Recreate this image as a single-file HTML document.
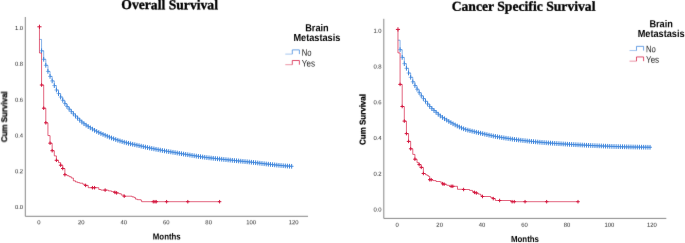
<!DOCTYPE html>
<html><head><meta charset="utf-8"><title>Survival</title>
<style>
html,body{margin:0;padding:0;background:#fff;}
body{width:685px;height:243px;overflow:hidden;}
svg{display:block;}
text{font-family:"Liberation Sans",sans-serif;fill:#1a1a1a;text-rendering:geometricPrecision;}
.tk{font-size:5.9px;fill:#1c1c1c;}
.ttl{font-family:"Liberation Serif",serif;font-weight:bold;font-size:13.65px;fill:#000;stroke:#000;stroke-width:0.3px;}
.axl{font-weight:bold;font-size:8.9px;fill:#000;}
.ayl{font-weight:bold;font-size:8.4px;fill:#000;stroke:#000;stroke-width:0.25px;}
.lgt{font-weight:bold;font-size:10.2px;fill:#000;}
.lg{font-size:9.4px;fill:#1a1a1a;}
</style></head><body>
<svg width="685" height="243" viewBox="0 0 685 243">
<defs><filter id="sf" x="0" y="0" width="100%" height="100%" filterUnits="userSpaceOnUse" color-interpolation-filters="sRGB"><feConvolveMatrix order="3" kernelMatrix="0.0052 0.0619 0.0052 0.0619 0.7314 0.0619 0.0052 0.0619 0.0052" divisor="1" edgeMode="duplicate" preserveAlpha="false"/></filter></defs>
<rect width="685" height="243" fill="#fff"/>
<g filter="url(#sf)">
<rect width="685" height="243" fill="#fff"/>
<path d="M25.3 17V216.3H308" fill="none" stroke="#888888" stroke-width="1"/>
<text transform="translate(23.1 30.05) rotate(0.05)" class="tk" text-anchor="end">1.0</text>
<text transform="translate(23.1 65.85) rotate(0.05)" class="tk" text-anchor="end">0.8</text>
<text transform="translate(23.1 101.65) rotate(0.05)" class="tk" text-anchor="end">0.6</text>
<text transform="translate(23.1 137.45) rotate(0.05)" class="tk" text-anchor="end">0.4</text>
<text transform="translate(23.1 173.25) rotate(0.05)" class="tk" text-anchor="end">0.2</text>
<text transform="translate(23.1 209.05) rotate(0.05)" class="tk" text-anchor="end">0.0</text>
<text transform="translate(38.85 224.25) rotate(0.05)" class="tk" text-anchor="middle">0</text>
<text transform="translate(81.3 224.25) rotate(0.05)" class="tk" text-anchor="middle">20</text>
<text transform="translate(123.75 224.25) rotate(0.05)" class="tk" text-anchor="middle">40</text>
<text transform="translate(166.2 224.25) rotate(0.05)" class="tk" text-anchor="middle">60</text>
<text transform="translate(208.65 224.25) rotate(0.05)" class="tk" text-anchor="middle">80</text>
<text transform="translate(251.1 224.25) rotate(0.05)" class="tk" text-anchor="middle">100</text>
<text transform="translate(293.55 224.25) rotate(0.05)" class="tk" text-anchor="middle">120</text>
<text transform="translate(121.3 9.1) rotate(0.05)" class="ttl">Overall Survival</text>
<text transform="translate(152.8 239.45) rotate(0.05) scale(0.885 1)" class="axl">Months</text>
<text transform="translate(7.1 116.8) rotate(-89.95) scale(0.95 1)" class="ayl" text-anchor="middle">Cum Survival</text>
<text transform="translate(316.9 31.2) rotate(0.05) scale(0.9 1)" class="lgt" text-anchor="middle">Brain</text>
<text transform="translate(316.9 41) rotate(0.05) scale(0.9 1)" class="lgt" text-anchor="middle">Metastasis</text>
<path d="M285.3 54.1H292.3" fill="none" stroke="#3f86dc" stroke-width="0.9" opacity="0.5"/>
<path d="M292.3 54.1V49.9H299.4V54.1" fill="none" stroke="#3f86dc" stroke-width="0.9" opacity="0.85"/>
<path d="M285.3 64.7H292.3" fill="none" stroke="#d4183f" stroke-width="0.9" opacity="0.5"/>
<path d="M292.3 64.7V60.5H299.4V64.7" fill="none" stroke="#d4183f" stroke-width="0.9" opacity="0.85"/>
<text transform="translate(301.8 55.8) rotate(0.05) scale(0.82 1)" class="lg">No</text>
<text transform="translate(301.8 66.4) rotate(0.05) scale(0.86 1)" class="lg">Yes</text>
<path d="M383.8 18.8V218.4H666.3" fill="none" stroke="#888888" stroke-width="1"/>
<text transform="translate(381.6 32.65) rotate(0.05)" class="tk" text-anchor="end">1.0</text>
<text transform="translate(381.6 68.43) rotate(0.05)" class="tk" text-anchor="end">0.8</text>
<text transform="translate(381.6 104.21) rotate(0.05)" class="tk" text-anchor="end">0.6</text>
<text transform="translate(381.6 139.99) rotate(0.05)" class="tk" text-anchor="end">0.4</text>
<text transform="translate(381.6 175.77) rotate(0.05)" class="tk" text-anchor="end">0.2</text>
<text transform="translate(381.6 211.55) rotate(0.05)" class="tk" text-anchor="end">0.0</text>
<text transform="translate(397.2 226.75) rotate(0.05)" class="tk" text-anchor="middle">0</text>
<text transform="translate(439.65 226.75) rotate(0.05)" class="tk" text-anchor="middle">20</text>
<text transform="translate(482.1 226.75) rotate(0.05)" class="tk" text-anchor="middle">40</text>
<text transform="translate(524.55 226.75) rotate(0.05)" class="tk" text-anchor="middle">60</text>
<text transform="translate(567 226.75) rotate(0.05)" class="tk" text-anchor="middle">80</text>
<text transform="translate(609.45 226.75) rotate(0.05)" class="tk" text-anchor="middle">100</text>
<text transform="translate(651.9 226.75) rotate(0.05)" class="tk" text-anchor="middle">120</text>
<text transform="translate(451.7 10.7) rotate(0.05)" class="ttl">Cancer Specific Survival</text>
<text transform="translate(511 242) rotate(0.05) scale(0.885 1)" class="axl">Months</text>
<text transform="translate(365.4 119.5) rotate(-89.95) scale(0.95 1)" class="ayl" text-anchor="middle">Cum Survival</text>
<text transform="translate(661.1 27.2) rotate(0.05) scale(0.9 1)" class="lgt" text-anchor="middle">Brain</text>
<text transform="translate(661.1 37) rotate(0.05) scale(0.9 1)" class="lgt" text-anchor="middle">Metastasis</text>
<path d="M629.5 50.55H636.5" fill="none" stroke="#3f86dc" stroke-width="0.9" opacity="0.5"/>
<path d="M636.5 50.55V46.35H643.6V50.55" fill="none" stroke="#3f86dc" stroke-width="0.9" opacity="0.85"/>
<path d="M629.5 61.15H636.5" fill="none" stroke="#d4183f" stroke-width="0.9" opacity="0.5"/>
<path d="M636.5 61.15V56.95H643.6V61.15" fill="none" stroke="#d4183f" stroke-width="0.9" opacity="0.85"/>
<text transform="translate(646 52.25) rotate(0.05) scale(0.82 1)" class="lg">No</text>
<text transform="translate(646 62.85) rotate(0.05) scale(0.86 1)" class="lg">Yes</text>
</g>
<g>
<path d="M39.45 39.4H41.57V50.8H43.69V59.3H45.81V65.3H47.93V71.4H50.05V76.4H52.17V80.9H54.29V85.6H56.41V90H58.52V93.6H60.64V97H62.76V100.32H64.88V103.56H67V106.55H69.12V109.18H71.24V111.59H73.36V113.85H75.48V116.03H77.6V118.18H79.72V120.22H81.84V122.09H83.96V123.72H86.08V125.19H88.2V126.55H90.32V127.86H92.44V129.13H94.55V130.34H96.67V131.47H98.79V132.52H100.91V133.48H103.03V134.39H105.15V135.3H107.27V136.22H109.39V137.12H111.51V137.98H113.63V138.77H115.75V139.53H117.87V140.26H119.99V140.95H122.11V141.61H124.23V142.23H126.35V142.79H128.46V143.31H130.58V143.8H132.7V144.27H134.82V144.74H136.94V145.2H139.06V145.68H141.18V146.16H143.3V146.64H145.42V147.1H147.54V147.56H149.66V148.01H151.78V148.45H153.9V148.88H156.02V149.3H158.14V149.71H160.26V150.11H162.38V150.5H164.49V150.87H166.61V151.24H168.73V151.59H170.85V151.94H172.97V152.28H175.09V152.64H177.21V152.99H179.33V153.35H181.45V153.71H183.57V154.06H185.69V154.4H187.81V154.74H189.93V155.08H192.05V155.42H194.17V155.76H196.29V156.09H198.41V156.41H200.52V156.72H202.64V157.02H204.76V157.3H206.88V157.57H209V157.83H211.12V158.08H213.24V158.32H215.36V158.56H217.48V158.79H219.6V159.01H221.72V159.24H223.84V159.46H225.96V159.68H228.08V159.9H230.2V160.12H232.32V160.34H234.43V160.56H236.55V160.77H238.67V160.97H240.79V161.18H242.91V161.39H245.03V161.59H247.15V161.8H249.27V162.02H251.39V162.23H253.51V162.46H255.63V162.7H257.75V162.95H259.87V163.21H261.99V163.48H264.11V163.73H266.23V163.97H268.35V164.2H270.46V164.43H272.58V164.66H274.7V164.89H276.82V165.11H278.94V165.32H281.06V165.52H283.18V165.71H285.3V165.89H287.42V166.05H289.54V166.19H291.66V166.3h1.6" fill="none" stroke="#3f86dc" stroke-width="0.9" opacity="0.7"/>
<path d="M39.45 26.8V53H41.57V85H43.69V108.2H45.81V122.8H47.93V135.6H50.05V143.2H52.17V150.7H54.29V155.9H56.41V160.3H58.52V162.6H60.64V165.2H62.76V168.5H64.88V174.7H67V175.7H69.12V176.7H71.24V178H73.36V180.8H75.48V181.9H77.6V182.6H79.72V183.2H82.9V184.3H85.23V185.4H88.2V187.7H98.79V189.5H100.91V190.1H108.33V190.9H111.51V191.6H114.9V192.4H116.6V192.9H118.93V193.7H121.26V195.1H124.23V196.2H132.07V196.9H134.19V197.6H135.46V199.1H137.37V199.7H140.76V200.2H141.61V201.7H219.77" fill="none" stroke="#d4183f" stroke-width="0.9" opacity="0.75"/>
<path d="M39.57 50.8h4M41.69 59.3h4M43.81 65.3h4M45.93 71.4h4M48.05 76.4h4M50.17 80.9h4M52.29 85.6h4M54.41 90h4M56.52 93.6h4M58.64 97h4M60.76 100.32h4M62.88 103.56h4M65 106.55h4M67.12 109.18h4M69.24 111.59h4M71.36 113.85h4M73.48 116.03h4M75.6 118.18h4M77.72 120.22h4M79.84 122.09h4M81.96 123.72h4M84.08 125.19h4M86.2 126.55h4M88.32 127.86h4M90.44 129.13h4M92.55 130.34h4M94.67 131.47h4M96.79 132.52h4M98.91 133.48h4M101.03 134.39h4M103.15 135.3h4M105.27 136.22h4M107.39 137.12h4M109.51 137.98h4M111.63 138.77h4M113.75 139.53h4M115.87 140.26h4M117.99 140.95h4M120.11 141.61h4M122.23 142.23h4M124.35 142.79h4M126.46 143.31h4M128.58 143.8h4M130.7 144.27h4M132.82 144.74h4M134.94 145.2h4M137.06 145.68h4M139.18 146.16h4M141.3 146.64h4M143.42 147.1h4M145.54 147.56h4M147.66 148.01h4M149.78 148.45h4M151.9 148.88h4M154.02 149.3h4M156.14 149.71h4M158.26 150.11h4M160.38 150.5h4M162.49 150.87h4M164.61 151.24h4M166.73 151.59h4M168.85 151.94h4M170.97 152.28h4M173.09 152.64h4M175.21 152.99h4M177.33 153.35h4M179.45 153.71h4M181.57 154.06h4M183.69 154.4h4M185.81 154.74h4M187.93 155.08h4M190.05 155.42h4M192.17 155.76h4M194.29 156.09h4M196.41 156.41h4M198.52 156.72h4M200.64 157.02h4M202.76 157.3h4M204.88 157.57h4M207 157.83h4M209.12 158.08h4M211.24 158.32h4M213.36 158.56h4M215.48 158.79h4M217.6 159.01h4M219.72 159.24h4M221.84 159.46h4M223.96 159.68h4M226.08 159.9h4M228.2 160.12h4M230.32 160.34h4M232.43 160.56h4M234.55 160.77h4M236.67 160.97h4M238.79 161.18h4M240.91 161.39h4M243.03 161.59h4M245.15 161.8h4M247.27 162.02h4M249.39 162.23h4M251.51 162.46h4M253.63 162.7h4M255.75 162.95h4M257.87 163.21h4M259.99 163.48h4M262.11 163.73h4M264.23 163.97h4M266.35 164.2h4M268.46 164.43h4M270.58 164.66h4M272.7 164.89h4M274.82 165.11h4M276.94 165.32h4M279.06 165.52h4M281.18 165.71h4M283.3 165.89h4M285.42 166.05h4M287.54 166.19h4M289.66 166.3h4" fill="none" stroke="#3f86dc" stroke-width="0.75" opacity="0.75"/>
<path d="" fill="none" stroke="#3f86dc" stroke-width="3.8" opacity="0.42"/>
<path d="M41.57 48.45v4.7M43.69 56.95v4.7M45.81 62.95v4.7M47.93 69.05v4.7M50.05 74.05v4.7M52.17 78.55v4.7M54.29 83.25v4.7M56.41 87.65v4.7M58.52 91.25v4.7M60.64 94.65v4.7M62.76 97.97v4.7M64.88 101.21v4.7M67 104.2v4.7M69.12 106.83v4.7M71.24 109.24v4.7M73.36 111.5v4.7M75.48 113.68v4.7M77.6 115.83v4.7M79.72 117.87v4.7M81.84 119.74v4.7M83.96 121.37v4.7M86.08 122.84v4.7M88.2 124.2v4.7M90.32 125.51v4.7M92.44 126.78v4.7M94.55 127.99v4.7M96.67 129.12v4.7M98.79 130.17v4.7M100.91 131.13v4.7M103.03 132.04v4.7M105.15 132.95v4.7M107.27 133.87v4.7M109.39 134.77v4.7M111.51 135.63v4.7M113.63 136.42v4.7M115.75 137.18v4.7M117.87 137.91v4.7M119.99 138.6v4.7M122.11 139.26v4.7M124.23 139.88v4.7M126.35 140.44v4.7M128.46 140.96v4.7M130.58 141.45v4.7M132.7 141.92v4.7M134.82 142.39v4.7M136.94 142.85v4.7M139.06 143.33v4.7M141.18 143.81v4.7M143.3 144.29v4.7M145.42 144.75v4.7M147.54 145.21v4.7M149.66 145.66v4.7M151.78 146.1v4.7M153.9 146.53v4.7M156.02 146.95v4.7M158.14 147.36v4.7M160.26 147.76v4.7M162.38 148.15v4.7M164.49 148.52v4.7M166.61 148.89v4.7M168.73 149.24v4.7M170.85 149.59v4.7M172.97 149.93v4.7M175.09 150.29v4.7M177.21 150.64v4.7M179.33 151v4.7M181.45 151.36v4.7M183.57 151.71v4.7M185.69 152.05v4.7M187.81 152.39v4.7M189.93 152.73v4.7M192.05 153.07v4.7M194.17 153.41v4.7M196.29 153.74v4.7M198.41 154.06v4.7M200.52 154.37v4.7M202.64 154.67v4.7M204.76 154.95v4.7M206.88 155.22v4.7M209 155.48v4.7M211.12 155.73v4.7M213.24 155.97v4.7M215.36 156.21v4.7M217.48 156.44v4.7M219.6 156.66v4.7M221.72 156.89v4.7M223.84 157.11v4.7M225.96 157.33v4.7M228.08 157.55v4.7M230.2 157.77v4.7M232.32 157.99v4.7M234.43 158.21v4.7M236.55 158.42v4.7M238.67 158.62v4.7M240.79 158.83v4.7M242.91 159.04v4.7M245.03 159.24v4.7M247.15 159.45v4.7M249.27 159.67v4.7M251.39 159.88v4.7M253.51 160.11v4.7M255.63 160.35v4.7M257.75 160.6v4.7M259.87 160.86v4.7M261.99 161.13v4.7M264.11 161.38v4.7M266.23 161.62v4.7M268.35 161.85v4.7M270.46 162.08v4.7M272.58 162.31v4.7M274.7 162.54v4.7M276.82 162.76v4.7M278.94 162.97v4.7M281.06 163.17v4.7M283.18 163.36v4.7M285.3 163.54v4.7M287.42 163.7v4.7M289.54 163.84v4.7M291.66 163.95v4.7" fill="none" stroke="#3f86dc" stroke-width="1"/>
<path d="M39.45 24.7v4.2M37.35 26.8h4.2M41.57 83.25v3.5M39.82 85h3.5M43.69 106.45v3.5M41.94 108.2h3.5M45.81 121.05v3.5M44.06 122.8h3.5M50.05 141.45v3.5M48.3 143.2h3.5M52.17 148.95v3.5M50.42 150.7h3.5M56.41 158.55v3.5M54.66 160.3h3.5M60.64 163.45v3.5M58.89 165.2h3.5M62.76 166.75v3.5M61.01 168.5h3.5M64.88 172.95v3.5M63.13 174.7h3.5M85.65 183.65v3.5M83.9 185.4h3.5M92.44 185.95v3.5M90.69 187.7h3.5M94.55 185.95v3.5M92.8 187.7h3.5M105.15 188.35v3.5M103.4 190.1h3.5M114.9 190.65v3.5M113.15 192.4h3.5M116.6 191.15v3.5M114.85 192.9h3.5M124.23 194.45v3.5M122.48 196.2h3.5M153.26 199.95v3.5M151.51 201.7h3.5M154.96 199.95v3.5M153.21 201.7h3.5M156.23 199.95v3.5M154.48 201.7h3.5M166.61 199.95v3.5M164.86 201.7h3.5M187.81 199.95v3.5M186.06 201.7h3.5M219.6 199.95v3.5M217.85 201.7h3.5" fill="none" stroke="#d4183f" stroke-width="1"/>
<path d="M397.96 40.2H400.08V49.7H402.2V57.4H404.31V63.7H406.43V68.3H408.55V73H410.67V77.3H412.79V81.8H414.91V85.6H417.02V89.22H419.14V92.68H421.26V95.81H423.38V98.62H425.5V101.3H427.61V103.99H429.73V106.52H431.85V108.65H433.97V110.52H436.09V112.37H438.21V114.27H440.32V116H442.44V117.45H444.56V118.77H446.68V120.1H448.8V121.41H450.91V122.64H453.03V123.82H455.15V124.94H457.27V126H459.39V126.99H461.51V127.94H463.62V128.8H465.74V129.53H467.86V130.14H469.98V130.68H472.1V131.19H474.22V131.71H476.33V132.22H478.45V132.71H480.57V133.2H482.69V133.69H484.81V134.18H486.92V134.67H489.04V135.15H491.16V135.61H493.28V136.04H495.4V136.44H497.52V136.82H499.63V137.18H501.75V137.54H503.87V137.88H505.99V138.22H508.11V138.54H510.22V138.85H512.34V139.15H514.46V139.44H516.58V139.72H518.7V139.99H520.82V140.25H522.93V140.5H525.05V140.74H527.17V140.98H529.29V141.2H531.41V141.42H533.52V141.64H535.64V141.84H537.76V142.04H539.88V142.23H542V142.42H544.12V142.6H546.23V142.77H548.35V142.93H550.47V143.09H552.59V143.25H554.71V143.4H556.82V143.54H558.94V143.68H561.06V143.82H563.18V143.95H565.3V144.08H567.42V144.21H569.53V144.34H571.65V144.46H573.77V144.58H575.89V144.7H578.01V144.82H580.13V144.94H582.24V145.05H584.36V145.16H586.48V145.27H588.6V145.37H590.72V145.47H592.83V145.57H594.95V145.67H597.07V145.77H599.19V145.86H601.31V145.96H603.43V146.05H605.54V146.15H607.66V146.24H609.78V146.32H611.9V146.41H614.02V146.49H616.13V146.56H618.25V146.63H620.37V146.69H622.49V146.74H624.61V146.8H626.73V146.85H628.84V146.9H630.96V146.95H633.08V147H635.2V147.05H637.32V147.09H639.43V147.13H641.55V147.17H643.67V147.2H645.79V147.23H647.91V147.26H650.03V147.28h1.6" fill="none" stroke="#3f86dc" stroke-width="0.9" opacity="0.7"/>
<path d="M397.96 29.4V52.9H400.08V84.4H402.2V106.5H404.31V121.1H406.43V133.6H408.55V141.4H410.67V148.8H412.79V154.4H414.91V159.2H417.02V162.7H419.14V164.6H421.26V167.4H423.38V173.5H425.5V174.7H427.19V175.6H428.67V176.5H429.73V179.7H432.91V180.6H436.09V181.5H440.32V182.2H442.44V183.8H444.14V184.2H446.68V185.3H449.43V186.3H457.48V189.3H463.62V189.5H469.56V190.4H472.52V191.6H474.43V192.4H476.33V193H478.24V194.1H480.57V195.3H482.48V196.5H490.74V197.6H493.28V198.6H495.4V200.5H511.07V201.7H578.18" fill="none" stroke="#d4183f" stroke-width="0.9" opacity="0.75"/>
<path d="M398.08 49.7h4M400.2 57.4h4M402.31 63.7h4M404.43 68.3h4M406.55 73h4M408.67 77.3h4M410.79 81.8h4M412.91 85.6h4M415.02 89.22h4M417.14 92.68h4M419.26 95.81h4M421.38 98.62h4M423.5 101.3h4M425.61 103.99h4M427.73 106.52h4M429.85 108.65h4M431.97 110.52h4M434.09 112.37h4M436.21 114.27h4M438.32 116h4M440.44 117.45h4M442.56 118.77h4M444.68 120.1h4M446.8 121.41h4M448.91 122.64h4M451.03 123.82h4M453.15 124.94h4M455.27 126h4M457.39 126.99h4M459.51 127.94h4M461.62 128.8h4M463.74 129.53h4M465.86 130.14h4M467.98 130.68h4M470.1 131.19h4M472.22 131.71h4M474.33 132.22h4M476.45 132.71h4M478.57 133.2h4M480.69 133.69h4M482.81 134.18h4M484.92 134.67h4M487.04 135.15h4M489.16 135.61h4M491.28 136.04h4M493.4 136.44h4M495.52 136.82h4M497.63 137.18h4M499.75 137.54h4M501.87 137.88h4M503.99 138.22h4M506.11 138.54h4M508.22 138.85h4M510.34 139.15h4M512.46 139.44h4M514.58 139.72h4M516.7 139.99h4M518.82 140.25h4M520.93 140.5h4M523.05 140.74h4M525.17 140.98h4M527.29 141.2h4M529.41 141.42h4M531.52 141.64h4M533.64 141.84h4M535.76 142.04h4M537.88 142.23h4M540 142.42h4M542.12 142.6h4M544.23 142.77h4M546.35 142.93h4M548.47 143.09h4M550.59 143.25h4M552.71 143.4h4M554.82 143.54h4M556.94 143.68h4M559.06 143.82h4M561.18 143.95h4M563.3 144.08h4M565.42 144.21h4M567.53 144.34h4M569.65 144.46h4M571.77 144.58h4M573.89 144.7h4M576.01 144.82h4M578.13 144.94h4M580.24 145.05h4M582.36 145.16h4M584.48 145.27h4M586.6 145.37h4M588.72 145.47h4M590.83 145.57h4M592.95 145.67h4M595.07 145.77h4M597.19 145.86h4M599.31 145.96h4M601.43 146.05h4M603.54 146.15h4M605.66 146.24h4M607.78 146.32h4M609.9 146.41h4M612.02 146.49h4M614.13 146.56h4M616.25 146.63h4M618.37 146.69h4M620.49 146.74h4M622.61 146.8h4M624.73 146.85h4M626.84 146.9h4M628.96 146.95h4M631.08 147h4M633.2 147.05h4M635.32 147.09h4M637.43 147.13h4M639.55 147.17h4M641.67 147.2h4M643.79 147.23h4M645.91 147.26h4M648.03 147.28h4" fill="none" stroke="#3f86dc" stroke-width="0.75" opacity="0.75"/>
<path d="" fill="none" stroke="#3f86dc" stroke-width="3.8" opacity="0.42"/>
<path d="M400.08 47.35v4.7M402.2 55.05v4.7M404.31 61.35v4.7M406.43 65.95v4.7M408.55 70.65v4.7M410.67 74.95v4.7M412.79 79.45v4.7M414.91 83.25v4.7M417.02 86.87v4.7M419.14 90.33v4.7M421.26 93.46v4.7M423.38 96.27v4.7M425.5 98.95v4.7M427.61 101.64v4.7M429.73 104.17v4.7M431.85 106.3v4.7M433.97 108.17v4.7M436.09 110.02v4.7M438.21 111.92v4.7M440.32 113.65v4.7M442.44 115.1v4.7M444.56 116.42v4.7M446.68 117.75v4.7M448.8 119.06v4.7M450.91 120.29v4.7M453.03 121.47v4.7M455.15 122.59v4.7M457.27 123.65v4.7M459.39 124.64v4.7M461.51 125.59v4.7M463.62 126.45v4.7M465.74 127.18v4.7M467.86 127.79v4.7M469.98 128.33v4.7M472.1 128.84v4.7M474.22 129.36v4.7M476.33 129.87v4.7M478.45 130.36v4.7M480.57 130.85v4.7M482.69 131.34v4.7M484.81 131.83v4.7M486.92 132.32v4.7M489.04 132.8v4.7M491.16 133.26v4.7M493.28 133.69v4.7M495.4 134.09v4.7M497.52 134.47v4.7M499.63 134.83v4.7M501.75 135.19v4.7M503.87 135.53v4.7M505.99 135.87v4.7M508.11 136.19v4.7M510.22 136.5v4.7M512.34 136.8v4.7M514.46 137.09v4.7M516.58 137.37v4.7M518.7 137.64v4.7M520.82 137.9v4.7M522.93 138.15v4.7M525.05 138.39v4.7M527.17 138.63v4.7M529.29 138.85v4.7M531.41 139.07v4.7M533.52 139.29v4.7M535.64 139.49v4.7M537.76 139.69v4.7M539.88 139.88v4.7M542 140.07v4.7M544.12 140.25v4.7M546.23 140.42v4.7M548.35 140.58v4.7M550.47 140.74v4.7M552.59 140.9v4.7M554.71 141.05v4.7M556.82 141.19v4.7M558.94 141.33v4.7M561.06 141.47v4.7M563.18 141.6v4.7M565.3 141.73v4.7M567.42 141.86v4.7M569.53 141.99v4.7M571.65 142.11v4.7M573.77 142.23v4.7M575.89 142.35v4.7M578.01 142.47v4.7M580.13 142.59v4.7M582.24 142.7v4.7M584.36 142.81v4.7M586.48 142.92v4.7M588.6 143.02v4.7M590.72 143.12v4.7M592.83 143.22v4.7M594.95 143.32v4.7M597.07 143.42v4.7M599.19 143.51v4.7M601.31 143.61v4.7M603.43 143.7v4.7M605.54 143.8v4.7M607.66 143.89v4.7M609.78 143.97v4.7M611.9 144.06v4.7M614.02 144.14v4.7M616.13 144.21v4.7M618.25 144.28v4.7M620.37 144.34v4.7M622.49 144.39v4.7M624.61 144.45v4.7M626.73 144.5v4.7M628.84 144.55v4.7M630.96 144.6v4.7M633.08 144.65v4.7M635.2 144.7v4.7M637.32 144.74v4.7M639.43 144.78v4.7M641.55 144.82v4.7M643.67 144.85v4.7M645.79 144.88v4.7M647.91 144.91v4.7M650.03 144.93v4.7" fill="none" stroke="#3f86dc" stroke-width="1"/>
<path d="M397.96 27.3v4.2M395.86 29.4h4.2M400.08 82.65v3.5M398.33 84.4h3.5M402.2 104.75v3.5M400.45 106.5h3.5M404.31 119.35v3.5M402.56 121.1h3.5M406.43 131.85v3.5M404.68 133.6h3.5M408.55 139.65v3.5M406.8 141.4h3.5M410.67 147.05v3.5M408.92 148.8h3.5M414.91 157.45v3.5M413.16 159.2h3.5M419.14 162.85v3.5M417.39 164.6h3.5M421.26 165.65v3.5M419.51 167.4h3.5M423.38 171.75v3.5M421.63 173.5h3.5M429.73 177.95v3.5M427.98 179.7h3.5M431.22 177.95v3.5M429.47 179.7h3.5M442.65 182.05v3.5M440.9 183.8h3.5M444.14 182.45v3.5M442.39 184.2h3.5M451.13 184.55v3.5M449.38 186.3h3.5M452.82 184.55v3.5M451.07 186.3h3.5M463.62 187.75v3.5M461.87 189.5h3.5M474.43 190.65v3.5M472.68 192.4h3.5M476.33 191.25v3.5M474.58 193h3.5M482.48 194.75v3.5M480.73 196.5h3.5M493.28 196.85v3.5M491.53 198.6h3.5M499.63 198.75v3.5M497.88 200.5h3.5M512.13 199.95v3.5M510.38 201.7h3.5M514.25 199.95v3.5M512.5 201.7h3.5M525.05 199.95v3.5M523.3 201.7h3.5M546.66 199.95v3.5M544.91 201.7h3.5M578.01 199.95v3.5M576.26 201.7h3.5" fill="none" stroke="#d4183f" stroke-width="1"/>
</g>
</svg>
</body></html>
